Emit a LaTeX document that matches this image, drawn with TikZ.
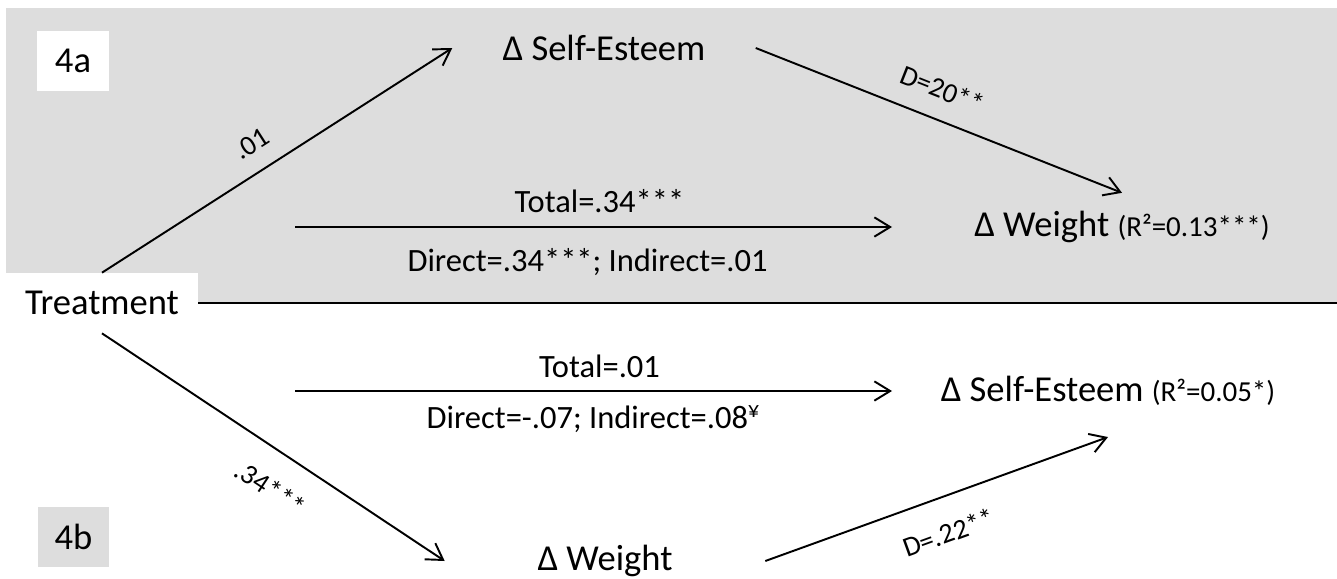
\documentclass[tikz,border=0pt]{standalone}
\usepackage{fontspec}
\setmainfont{Carlito}
\usetikzlibrary{arrows.meta,positioning}

\definecolor{panelgray}{RGB}{221,221,221}

\tikzset{
  var/.style={font=\fontsize{20.8}{24}\selectfont, inner ysep=0pt},
  path arrow/.style={line width=1.1pt, -{Straight Barb[length=9pt,width=11pt]}},
  coef/.style={font=\fontsize{16}{19}\selectfont, sloped},
  effect/.style={font=\fontsize{18.5}{22}\selectfont},
  tag/.style={font=\fontsize{20.8}{24}\selectfont, minimum width=1.44cm, minimum height=1.2cm}
}

\begin{document}
\begin{tikzpicture}[x=0.02cm, y=-0.02cm]
    \useasboundingbox (0,0) rectangle (1337,578);

    % Panel 4a background
    \fill[panelgray] (6,8) rectangle (1337,304);

    % Panel tags
    \node[tag, fill=white] (tagA) at (73,61) {4a};
    \node[tag, fill=panelgray] (tagB) at (73.5,536.5) {4b};

    % Variables
    \node[var, fill=white, minimum width=3.84cm, minimum height=1.2cm] (treat) at (102,303) {Treatment};
    \node[var, inner xsep=1.0cm] (seA) at (604,48) {Δ Self-Esteem};
    \node[var, inner ysep=0.36cm] (wtA) at (1122,227) {Δ Weight {\fontsize{16.5}{19}\selectfont(R²=0.13***)}};
    \node[var, inner ysep=0.62cm] (seB) at (1108,391) {Δ Self-Esteem {\fontsize{16.5}{19}\selectfont(R²=0.05*)}};
    \node[var, inner xsep=1.85cm] (wtB) at (605,561) {Δ Weight};

    % Divider between panels
    \draw[line width=1.1pt] (treat.east) -- ++(1139,0);

    % Panel 4a paths
    \draw[path arrow] (treat.north) -- (seA.west)
        node[coef, pos=0.47, above, inner ysep=10pt] {.01};
    \draw[path arrow] (seA.east) -- (wtA.north)
        node[coef, pos=0.48, above, inner ysep=11pt] {D=20**};
    \coordinate (totA0) at (295,227);
    \coordinate (totA1) at (892,227);
    \draw[path arrow] (totA0) -- (totA1)
        node[effect, pos=0.51, above, inner ysep=7.5pt] {Total=.34***}
        node[effect, pos=0.49, below, inner ysep=11.5pt] {Direct=.34***; Indirect=.01};

    % Panel 4b paths
    \draw[path arrow] (treat.south) -- (wtB.west)
        node[coef, pos=0.55, below, inner ysep=14pt] {.34***};
    \draw[path arrow] (wtB.east) -- (seB.south)
        node[coef, midway, below, inner ysep=14pt] {D=.22**};
    \coordinate (totB0) at (295,391);
    \coordinate (totB1) at (892,391);
    \draw[path arrow] (totB0) -- (totB1)
        node[effect, pos=0.51, above, inner ysep=7pt] {Total=.01}
        node[effect, pos=0.5, below, inner ysep=8pt] {Direct=-.07; Indirect=.08\textsuperscript{¥}};
\end{tikzpicture}
\end{document}
